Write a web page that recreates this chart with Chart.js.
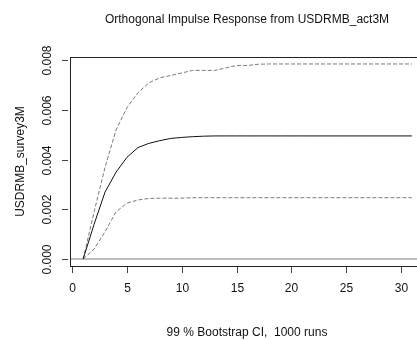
<!DOCTYPE html>
<html>
<head>
<meta charset="utf-8">
<script src="https://cdn.jsdelivr.net/npm/chart.js@4"></script>
<style>
  html, body { margin: 0; padding: 0; background: #fff; overflow: hidden; }
  #wrap { width: 417px; height: 340px; overflow: hidden; }
</style>
</head>
<body>
<div id="wrap"><canvas id="irf" width="426" height="340"></canvas></div>
<script>
// Orthogonal IRF of USDRMB_survey3M to a USDRMB_act3M shock, with bootstrap CI bands
const steps = [1, 2, 3, 4, 5, 6, 7, 8, 9, 10, 11, 12, 13, 14, 15, 16,
               17, 18, 19, 20, 21, 22, 23, 24, 25, 26, 27, 28, 29, 30, 31];

const irfValues = [0.0000, 0.0014, 0.0027, 0.0035, 0.0041, 0.00449, 0.00466, 0.00477,
                   0.00486, 0.0049, 0.00493, 0.00495, 0.00496, 0.00496, 0.00496, 0.00496,
                   0.00496, 0.00496, 0.00496, 0.00496, 0.00496, 0.00496, 0.00496, 0.00496,
                   0.00496, 0.00496, 0.00496, 0.00496, 0.00496, 0.00496, 0.00496];

const upperCI = [0.0000, 0.0019, 0.0037, 0.0052, 0.0061, 0.0067, 0.0071, 0.0073,
                 0.0074, 0.0075, 0.0076, 0.0076, 0.0076, 0.0077, 0.0078, 0.0078,
                 0.00785, 0.00786, 0.00786, 0.00786, 0.00786, 0.00786, 0.00786, 0.00786,
                 0.00786, 0.00786, 0.00786, 0.00786, 0.00786, 0.00786, 0.00786];

const lowerCI = [0.0000, 0.0004, 0.0011, 0.0019, 0.00225, 0.00238, 0.00244, 0.00245,
                 0.00245, 0.00245, 0.00247, 0.00247, 0.00247, 0.00247, 0.00247, 0.00247,
                 0.00247, 0.00247, 0.00247, 0.00247, 0.00247, 0.00247, 0.00247, 0.00247,
                 0.00247, 0.00247, 0.00247, 0.00247, 0.00247, 0.00247, 0.00247];

const xTicks = [0, 5, 10, 15, 20, 25, 30];
const yTicks = [0, 0.002, 0.004, 0.006, 0.008];
const yTickLabels = ["0.000", "0.002", "0.004", "0.006", "0.008"];

const titleText  = "Orthogonal Impulse Response from USDRMB_act3M";
const yTitleText = "USDRMB_survey3M";
const subText    = "99 % Bootstrap CI,  1000 runs";

const FONT = '12px "Liberation Sans", Arial, sans-serif';

const toPoints = (vals) => steps.map((s, i) => ({ x: s, y: vals[i] }));

// R-style frame, zero line, axes and text drawn against the chart's scales
const baseGraphics = {
  id: "baseGraphics",
  beforeDatasetsDraw(chart) {
    const { ctx, chartArea: a, scales: { y } } = chart;
    const y0 = Math.round(y.getPixelForValue(0));
    ctx.save();
    ctx.strokeStyle = "#bebebe";
    ctx.lineWidth = 2;
    ctx.beginPath();
    ctx.moveTo(a.left, y0);
    ctx.lineTo(a.right, y0);
    ctx.stroke();
    ctx.restore();
  },
  afterDraw(chart) {
    const { ctx, chartArea: a, scales: { x, y } } = chart;
    ctx.save();

    // box
    ctx.strokeStyle = "#222";
    ctx.lineWidth = 1;
    ctx.strokeRect(a.left + 0.5, a.top + 0.5, a.right - a.left, a.bottom - a.top);

    ctx.fillStyle = "#111";
    ctx.font = FONT;
    ctx.textBaseline = "middle";
    ctx.textAlign = "center";

    // x axis
    ctx.strokeStyle = "#444";
    xTicks.forEach((t) => {
      const px = Math.round(x.getPixelForValue(t)) + 0.5;
      ctx.beginPath();
      ctx.moveTo(px, a.bottom + 1);
      ctx.lineTo(px, a.bottom + 7);
      ctx.stroke();
      ctx.fillText(String(t), px, a.bottom + 23);
    });

    // y axis
    yTicks.forEach((t, i) => {
      const py = Math.round(y.getPixelForValue(t)) + 0.5;
      ctx.beginPath();
      ctx.moveTo(a.left - 8, py);
      ctx.lineTo(a.left - 2, py);
      ctx.stroke();
      ctx.save();
      ctx.translate(a.left - 22, py);
      ctx.rotate(-Math.PI / 2);
      ctx.fillText(yTickLabels[i], 0, 0);
      ctx.restore();
    });

    // titles
    ctx.fillText(titleText, 247, 20);
    ctx.fillText(subText, 247, 333);
    ctx.save();
    ctx.translate(21, (a.top + a.bottom) / 2);
    ctx.rotate(-Math.PI / 2);
    ctx.fillText(yTitleText, 0, 0);
    ctx.restore();

    ctx.restore();
  },
};

new Chart(document.getElementById("irf"), {
  type: "line",
  data: {
    datasets: [
      {
        label: "irf",
        data: toPoints(irfValues),
        borderColor: "#111",
        borderWidth: 1,
      },
      {
        label: "upper",
        data: toPoints(upperCI),
        borderColor: "#7a7a7a",
        borderWidth: 1,
        borderDash: [4, 2],
      },
      {
        label: "lower",
        data: toPoints(lowerCI),
        borderColor: "#7a7a7a",
        borderWidth: 1,
        borderDash: [4, 2],
      },
    ],
  },
  options: {
    responsive: false,
    animation: false,
    events: [],
    layout: { padding: { left: 70, top: 57, right: 1, bottom: 74 } },
    elements: {
      line: { tension: 0, fill: false },
      point: { radius: 0 },
    },
    plugins: { legend: { display: false }, tooltip: { enabled: false } },
    scales: {
      x: { type: "linear", min: -0.2, max: 32.2, display: false },
      y: { type: "linear", min: -0.000282, max: 0.008141, display: false },
    },
  },
  plugins: [baseGraphics],
});
</script>
</body>
</html>
